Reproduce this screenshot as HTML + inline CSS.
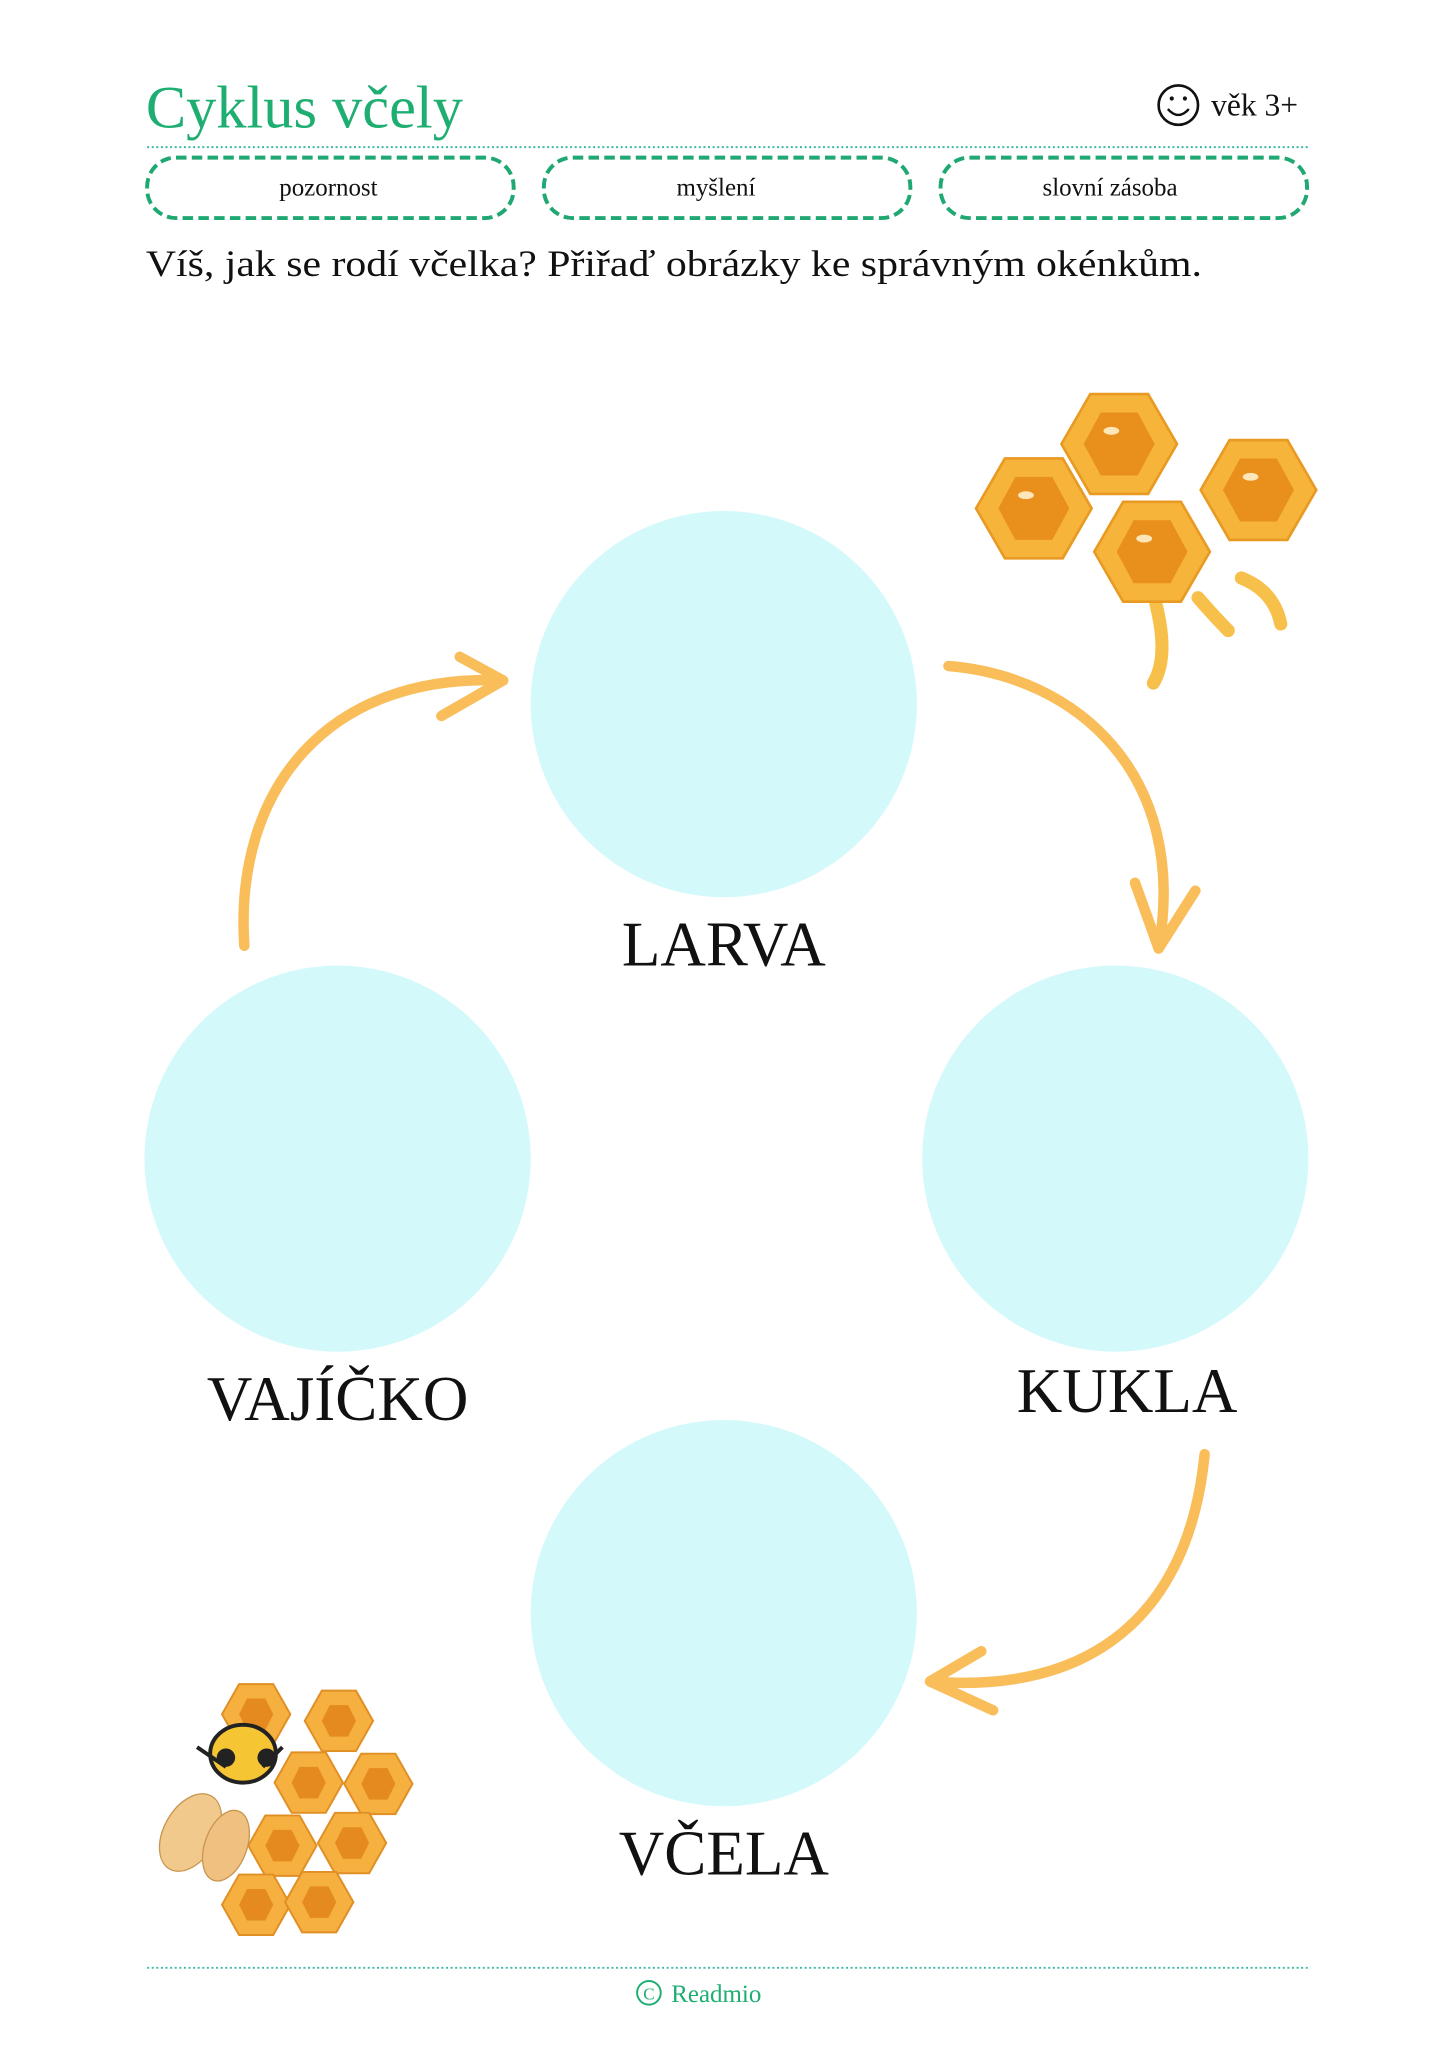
<!DOCTYPE html>
<html><head><meta charset="utf-8"><style>
html,body{margin:0;padding:0;background:#fff;}
svg{display:block}
</style></head><body>
<svg width="1445" height="2045" viewBox="0 0 1100 1556.75" xmlns="http://www.w3.org/2000/svg">
<defs>
<g id="hx"><polygon points="-44,0 -22,-38 22,-38 44,0 22,38 -22,38" fill="#f6b43a" stroke="#e89a22" stroke-width="2"/><polygon points="-27,0 -14,-24 14,-24 27,0 14,24 -14,24" fill="#e98f1c"/><ellipse cx="-6" cy="-10" rx="6" ry="3" fill="#ffe6b8"/></g>
<g id="hs"><polygon points="-26,0 -13,-23 13,-23 26,0 13,23 -13,23" fill="#f5b040" stroke="#e08f25" stroke-width="1.5"/><polygon points="-13,0 -7,-12 7,-12 13,0 7,12 -7,12" fill="#e58a1e"/></g>
</defs>
<g font-family="'Liberation Serif', serif">
<text x="111" y="97" font-size="46" fill="#1fae72">Cyklus včely</text>
<circle cx="897" cy="80" r="15" fill="none" stroke="#111" stroke-width="2"/>
<circle cx="892" cy="75" r="1.6" fill="#111"/><circle cx="902" cy="75" r="1.6" fill="#111"/>
<path d="M889 83 Q897 92 905 83" fill="none" stroke="#111" stroke-width="1.8"/>
<text x="922" y="88" font-size="24" fill="#111">věk 3+</text>
<line x1="112" y1="112" x2="997" y2="112" stroke="#3bb9a3" stroke-width="1.5" stroke-dasharray="1.5,2"/>
<g fill="none" stroke="#1fa872" stroke-width="3" stroke-dasharray="8,4">
<rect x="112" y="120" width="279" height="46" rx="22"/>
<rect x="414" y="120" width="279" height="46" rx="22"/>
<rect x="716" y="120" width="279" height="46" rx="22"/>
</g>
<g font-size="19" fill="#111" text-anchor="middle">
<text x="250" y="149">pozornost</text>
<text x="545" y="149">myšlení</text>
<text x="845" y="149">slovní zásoba</text>
</g>
<text x="111" y="210" font-size="28" fill="#111" textLength="804" lengthAdjust="spacingAndGlyphs">Víš, jak se rodí včelka? Přiřaď obrázky ke správným okénkům.</text>
<g fill="#d3f9fb">
<circle cx="551" cy="536" r="147"/>
<circle cx="257" cy="882" r="147"/>
<circle cx="849" cy="882" r="147"/>
<circle cx="551" cy="1228" r="147"/>
</g>
<g font-size="48" fill="#111" text-anchor="middle">
<text x="551" y="735">LARVA</text>
<text x="257" y="1081">VAJÍČKO</text>
<text x="858" y="1075">KUKLA</text>
<text x="551" y="1427">VČELA</text>
</g>
<g fill="none" stroke="#f9bd5a" stroke-width="8" stroke-linecap="round" stroke-linejoin="round">
<path d="M186 720 C178 600 250 512 383 518"/>
<path d="M350 500 L383 518 L336 545"/>
<path d="M722 507 C820 515 905 590 882 722"/>
<path d="M864 672 L882 722 L910 678"/>
<path d="M917 1107 C905 1230 830 1290 708 1280"/>
<path d="M747 1257 L708 1280 L756 1302"/>
</g>
<g>
<use href="#hx" x="787" y="387"/>
<use href="#hx" x="852" y="338"/>
<use href="#hx" x="958" y="373"/>
<path d="M880 460 Q890 500 878 520 M912 455 Q925 470 935 480 M945 440 Q970 450 975 475" stroke="#f7c04a" stroke-width="10" fill="none" stroke-linecap="round"/>
<use href="#hx" x="877" y="420"/>
</g>
<g>
<use href="#hs" x="195" y="1305"/><use href="#hs" x="258" y="1310"/><use href="#hs" x="288" y="1358"/>
<use href="#hs" x="235" y="1357"/><use href="#hs" x="268" y="1403"/><use href="#hs" x="215" y="1405"/>
<use href="#hs" x="195" y="1450"/><use href="#hs" x="243" y="1448"/>
<ellipse cx="145" cy="1395" rx="32" ry="20" transform="rotate(-60 145 1395)" fill="#f2c98c" stroke="#c99550"/>
<ellipse cx="172" cy="1405" rx="28" ry="16" transform="rotate(-70 172 1405)" fill="#f0c080" stroke="#c99550"/>
<ellipse cx="185" cy="1335" rx="25" ry="22" fill="#f5c534" stroke="#222" stroke-width="3"/>
<circle cx="172" cy="1338" r="7" fill="#222"/><circle cx="203" cy="1338" r="7" fill="#222"/>
<path d="M150 1330 L172 1345 M215 1330 L200 1345" stroke="#222" stroke-width="3"/>
</g>
<line x1="112" y1="1498" x2="997" y2="1498" stroke="#3bb9a3" stroke-width="1.5" stroke-dasharray="1.5,2"/>
<circle cx="494" cy="1517" r="9" fill="none" stroke="#1fae72" stroke-width="1.5"/>
<text x="494" y="1522" font-size="13" fill="#1fae72" text-anchor="middle">C</text>
<text x="511" y="1524" font-size="19" fill="#1fae72">Readmio</text>
</g>
</svg>
</body></html>
